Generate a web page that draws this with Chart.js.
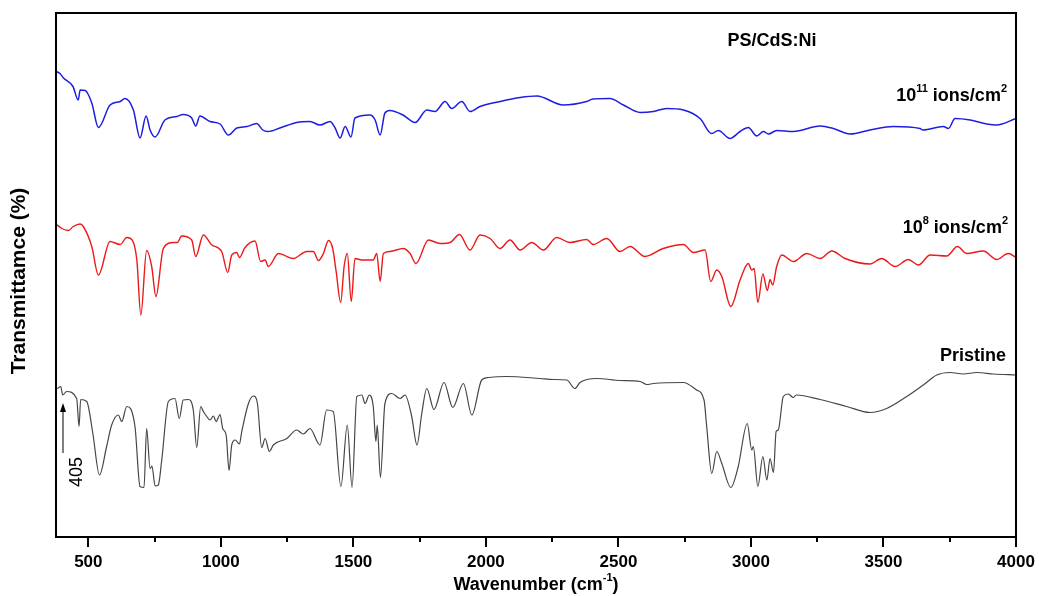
<!DOCTYPE html>
<html>
<head>
<meta charset="utf-8">
<script src="https://cdn.jsdelivr.net/npm/chart.js@4/dist/chart.umd.min.js"></script>
<style>
  body { margin: 0; background: #fff; }
  #wrap { width: 1039px; height: 596px; }
</style>
</head>
<body>
<div id="wrap"><canvas id="myChart" width="1039" height="596"></canvas></div>
<script>
// wavenumber (cm-1) and transmittance (a.u., offset stacked)
let ion11Wn = [378, 393, 406, 442, 462, 469, 488, 513, 538, 582, 620, 638, 670, 695, 718, 733, 752, 789, 834, 857,
  890, 905, 921, 959, 997, 1028, 1060, 1098, 1135, 1158, 1178, 1223, 1286, 1336, 1374, 1412, 1431, 1450, 1469, 1491,
  1506, 1563, 1582, 1601, 1619, 1638, 1687, 1733, 1777, 1808, 1846, 1871, 1909, 1940, 1978, 2053, 2129, 2192, 2292, 2380,
  2404, 2468, 2519, 2582, 2632, 2682, 2745, 2808, 2852, 2877, 2921, 2959, 2990, 3022, 3047, 3066, 3097, 3160, 3261, 3311,
  3374, 3449, 3537, 3638, 3649, 3726, 3745, 3770, 3827, 3890, 3927, 4000];
let ion11T = [93.1, 92.7, 91.8, 90.1, 87.4, 89.4, 89.3, 86.8, 81.9, 86.4, 87.1, 87.7, 85.4, 79.8, 84.2, 81.4, 80.0, 83.4, 84.1, 84.5,
  83.8, 82.2, 84.2, 83.1, 82.6, 80.4, 81.8, 82.1, 82.7, 81.4, 81.1, 81.8, 82.9, 83.1, 82.4, 83.1, 81.8, 79.8, 82.1, 80.0,
  83.8, 84.4, 83.4, 80.4, 84.8, 85.3, 84.4, 82.9, 85.4, 85.1, 87.1, 85.7, 87.1, 85.1, 86.1, 87.1, 87.9, 88.2, 86.4, 87.1,
  87.6, 87.7, 86.4, 84.9, 85.1, 85.7, 85.4, 83.7, 80.7, 81.3, 79.7, 81.1, 81.9, 80.2, 81.1, 80.6, 81.3, 81.1, 82.2, 81.7,
  80.6, 81.4, 82.1, 81.7, 81.4, 82.1, 81.7, 83.7, 83.4, 82.6, 82.4, 83.7];

let ion8Wn = [378, 400, 425, 443, 469, 481, 513, 538, 582, 620, 645, 664, 683, 698, 720, 739, 755, 783, 821, 836,
  852, 890, 905, 934, 966, 1003, 1026, 1041, 1060, 1070, 1091, 1129, 1150, 1167, 1179, 1217, 1273, 1324, 1349, 1368,
  1387, 1406, 1422, 1435, 1452, 1465, 1477, 1492, 1506, 1532, 1575, 1588, 1601, 1613, 1638, 1688, 1714, 1736, 1783, 1827,
  1865, 1900, 1940, 1978, 2016, 2053, 2091, 2129, 2173, 2217, 2267, 2317, 2380, 2405, 2456, 2506, 2544, 2600, 2669, 2745,
  2783, 2827, 2848, 2871, 2890, 2924, 2959, 2990, 3003, 3012, 3026, 3045, 3062, 3072, 3082, 3097, 3116, 3160, 3211, 3261,
  3305, 3355, 3449, 3493, 3544, 3594, 3632, 3676, 3739, 3779, 3814, 3877, 3927, 3971, 4000];
let ion8T = [62.6, 61.7, 61.3, 62.1, 62.6, 62.1, 58.1, 52.4, 59.1, 58.5, 59.9, 59.5, 55.4, 44.4, 57.3, 54.1, 48.1, 57.7, 58.9, 58.9,
  60.2, 59.4, 56.1, 60.4, 58.4, 57.1, 52.9, 56.4, 56.9, 55.9, 57.9, 59.2, 55.1, 55.4, 54.1, 56.7, 55.7, 57.1, 57.1, 55.3,
  56.7, 59.3, 57.7, 53.1, 46.9, 54.1, 56.7, 47.1, 55.7, 55.4, 55.4, 56.7, 51.1, 56.7, 57.1, 57.7, 56.7, 54.7, 59.4, 58.7,
  58.9, 60.5, 57.4, 60.4, 59.7, 57.7, 59.4, 57.4, 58.9, 57.4, 59.9, 58.9, 59.5, 58.5, 59.7, 57.1, 58.1, 56.1, 57.7, 58.5,
  56.9, 57.4, 51.1, 53.4, 52.1, 46.1, 51.4, 54.7, 53.4, 53.7, 46.9, 52.6, 49.3, 51.5, 50.4, 54.1, 56.4, 55.1, 56.7, 55.7,
  57.2, 55.7, 54.6, 55.7, 54.1, 55.5, 54.4, 56.4, 56.2, 58.1, 56.7, 57.2, 55.5, 56.7, 55.9];

let pristineWn = [383, 396, 403, 418, 456, 465, 471, 494, 517, 542, 569, 588, 613, 626, 645, 676, 695, 710, 720, 733,
  740, 752, 764, 777, 802, 827, 843, 858, 877, 896, 909, 924, 934, 947, 959, 972, 982, 997, 1007, 1020,
  1031, 1041, 1054, 1070, 1079, 1104, 1123, 1138, 1154, 1167, 1183, 1198, 1249, 1286, 1311, 1336, 1374, 1399, 1424, 1453,
  1477, 1495, 1513, 1532, 1544, 1560, 1575, 1585, 1590, 1602, 1619, 1645, 1676, 1695, 1720, 1740, 1758, 1777, 1804, 1842,
  1875, 1915, 1947, 1984, 2009, 2079, 2204, 2254, 2305, 2336, 2355, 2418, 2506, 2582, 2607, 2632, 2745, 2795, 2823, 2833,
  2852, 2871, 2890, 2924, 2952, 2986, 3003, 3009, 3026, 3045, 3060, 3072, 3085, 3095, 3103, 3122, 3141, 3160, 3170, 3261,
  3361, 3449, 3512, 3588, 3650, 3701, 3751, 3801, 3852, 3915, 4000];
let pristineT = [29.7, 30.1, 28.4, 29.1, 27.7, 22.1, 27.5, 27.1, 20.7, 12.4, 18.1, 22.4, 24.4, 23.1, 26.1, 22.1, 10.1, 9.9, 21.7, 13.7,
  14.2, 10.2, 10.4, 15.4, 27.1, 27.7, 23.7, 27.4, 27.5, 25.4, 17.9, 26.1, 25.1, 24.1, 23.4, 24.2, 23.1, 24.5, 21.7, 20.4,
  13.3, 18.4, 19.4, 18.6, 21.1, 26.7, 28.2, 26.7, 17.9, 19.7, 17.1, 18.4, 19.7, 21.4, 20.6, 21.7, 18.4, 25.4, 25.1, 10.1,
  22.4, 9.9, 28.1, 28.4, 26.7, 28.4, 26.1, 19.1, 22.4, 11.9, 26.7, 28.7, 27.7, 28.4, 24.1, 18.4, 24.7, 29.7, 25.5, 30.9,
  25.9, 30.7, 24.4, 31.4, 31.9, 32.1, 31.7, 31.5, 31.4, 29.7, 30.9, 31.7, 31.3, 31.1, 30.5, 30.7, 30.9, 29.4, 27.4, 22.1,
  12.7, 17.1, 14.7, 9.9, 14.1, 22.7, 17.4, 18.1, 10.1, 16.1, 11.4, 15.7, 12.9, 21.1, 21.4, 28.1, 28.6, 27.9, 28.4, 27.5,
  26.1, 24.9, 25.7, 28.1, 30.4, 32.4, 32.9, 32.6, 32.9, 32.6, 32.4];

let xTicks = [500, 1000, 1500, 2000, 2500, 3000, 3500, 4000];

function pairs(xs, ys) {
  return xs.map((v, i) => ({ x: v, y: ys[i] }));
}

const FONT = '"Liberation Sans", Arial, sans-serif';

// frame, ticks, axis titles and labels
const decor = {
  id: 'decor',
  afterDraw(chart) {
    const ctx = chart.ctx;
    const a = chart.chartArea;
    const x = chart.scales.x;
    ctx.save();
    ctx.strokeStyle = '#000';
    ctx.lineWidth = 2;
    ctx.strokeRect(a.left, a.top, a.right - a.left, a.bottom - a.top);

    // major + minor ticks
    for (let v = 500; v <= 4000; v += 250) {
      const px = Math.round(x.getPixelForValue(v));
      const len = v % 500 === 0 ? 10 : 5;
      ctx.beginPath();
      ctx.moveTo(px, a.bottom);
      ctx.lineTo(px, a.bottom + len);
      ctx.stroke();
    }
    ctx.fillStyle = '#000';
    ctx.font = 'bold 17px ' + FONT;
    ctx.textAlign = 'center';
    ctx.textBaseline = 'middle';
    xTicks.forEach(v => {
      ctx.fillText(String(v), x.getPixelForValue(v), a.bottom + 25);
    });

    // x title with superscript
    ctx.textBaseline = 'alphabetic';
    ctx.textAlign = 'left';
    const t1 = 'Wavenumber (cm', t2 = '-1', t3 = ')';
    ctx.font = 'bold 18px ' + FONT;
    const w1 = ctx.measureText(t1).width;
    ctx.font = 'bold 11px ' + FONT;
    const w2 = ctx.measureText(t2).width;
    ctx.font = 'bold 18px ' + FONT;
    const w3 = ctx.measureText(t3).width;
    let sx = (a.left + a.right) / 2 - (w1 + w2 + w3) / 2;
    ctx.fillText(t1, sx, 590);
    ctx.font = 'bold 11px ' + FONT;
    ctx.fillText(t2, sx + w1, 581);
    ctx.font = 'bold 18px ' + FONT;
    ctx.fillText(t3, sx + w1 + w2, 590);

    // y title
    ctx.save();
    ctx.translate(25, (a.top + a.bottom) / 2 + 6);
    ctx.rotate(-Math.PI / 2);
    ctx.textAlign = 'center';
    ctx.font = 'bold 21px ' + FONT;
    ctx.fillText('Transmittamce (%)', 0, 0);
    ctx.restore();

    // labels on the right
    ctx.font = 'bold 18px ' + FONT;
    ctx.textAlign = 'center';
    ctx.fillText('PS/CdS:Ni', 772, 46);
    ctx.textAlign = 'right';
    ctx.fillText('Pristine', 1006, 361);
    drawIon(ctx, '11', 1007, 101);
    drawIon(ctx, '8', 1008, 233);

    // 405 marker
    ctx.save();
    ctx.translate(82, 472);
    ctx.rotate(-Math.PI / 2);
    ctx.textAlign = 'center';
    ctx.font = '18px ' + FONT;
    ctx.fillText('405', 0, 0);
    ctx.restore();
    ctx.lineWidth = 1;
    ctx.beginPath();
    ctx.moveTo(63, 453);
    ctx.lineTo(63, 410);
    ctx.stroke();
    ctx.beginPath();
    ctx.moveTo(63, 403);
    ctx.lineTo(60, 412);
    ctx.lineTo(66, 412);
    ctx.closePath();
    ctx.fill();
    ctx.restore();
  }
};

// "10^n ions/cm^2" right aligned at rx
function drawIon(ctx, exp, rx, by) {
  const big = 'bold 18px ' + FONT, small = 'bold 11px ' + FONT;
  ctx.textAlign = 'left';
  ctx.font = big;
  const wa = ctx.measureText('10').width;
  const wc = ctx.measureText(' ions/cm').width;
  ctx.font = small;
  const wb = ctx.measureText(exp).width;
  const wd = ctx.measureText('2').width;
  let sx = rx - (wa + wb + wc + wd);
  ctx.font = big;
  ctx.fillText('10', sx, by);
  ctx.font = small;
  ctx.fillText(exp, sx + wa, by - 9);
  ctx.font = big;
  ctx.fillText(' ions/cm', sx + wa + wb, by);
  ctx.font = small;
  ctx.fillText('2', sx + wa + wb + wc, by - 9);
}

const ctx = document.getElementById('myChart').getContext('2d');
const myChart = new Chart(ctx, {
  type: 'line',
  data: {
    datasets: [{
      label: '10^11 ions/cm2',
      data: pairs(ion11Wn, ion11T),
      borderColor: 'rgb(30, 30, 225)',
      borderWidth: 1.5
    }, {
      label: '10^8 ions/cm2',
      data: pairs(ion8Wn, ion8T),
      borderColor: 'rgb(235, 25, 25)',
      borderWidth: 1.4
    }, {
      label: 'Pristine',
      data: pairs(pristineWn, pristineT),
      borderColor: 'rgb(70, 70, 70)',
      borderWidth: 1.2
    }]
  },
  options: {
    responsive: false,
    animation: false,
    devicePixelRatio: 1,
    layout: { padding: { left: 56, right: 23, top: 13, bottom: 59 } },
    elements: {
      point: { radius: 0 },
      line: { cubicInterpolationMode: 'monotone', fill: false }
    },
    plugins: { legend: { display: false }, tooltip: { enabled: false } },
    scales: {
      x: { type: 'linear', min: 378, max: 4000, display: false },
      y: { min: 0, max: 104.8, display: false }
    }
  },
  plugins: [decor]
});
</script>
</body>
</html>
